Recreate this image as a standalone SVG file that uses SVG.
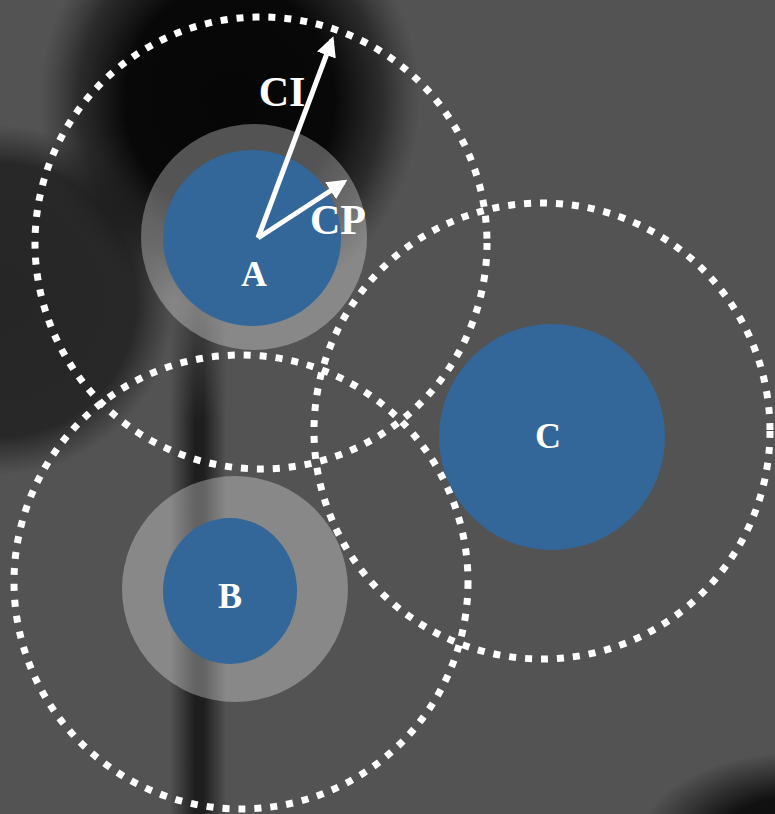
<svg xmlns="http://www.w3.org/2000/svg" width="775" height="814" viewBox="0 0 775 814">
<defs>
<radialGradient id="gBlob" cx="230" cy="100" r="200" gradientUnits="userSpaceOnUse" gradientTransform="translate(230 100) scale(0.95 1.05) translate(-230 -100)">
<stop offset="0" stop-color="#060606"/>
<stop offset="0.55" stop-color="#080808"/>
<stop offset="0.8" stop-color="#111" stop-opacity="0.6"/>
<stop offset="1" stop-color="#222" stop-opacity="0"/>
</radialGradient>
<radialGradient id="gLeft" cx="0" cy="300" r="175" gradientUnits="userSpaceOnUse">
<stop offset="0" stop-color="#262626"/>
<stop offset="0.78" stop-color="#282828"/>
<stop offset="1" stop-color="#2c2c2c" stop-opacity="0"/>
</radialGradient>
<radialGradient id="gBR" cx="800" cy="840" r="160" gradientUnits="userSpaceOnUse" gradientTransform="translate(800 840) scale(1 0.55) translate(-800 -840)">
<stop offset="0" stop-color="#0c0c0c"/>
<stop offset="0.5" stop-color="#111"/>
<stop offset="1" stop-color="#111" stop-opacity="0"/>
</radialGradient>
<linearGradient id="gStripe" x1="170" y1="0" x2="226" y2="0" gradientUnits="userSpaceOnUse">
<stop offset="0" stop-color="#1e1e1e" stop-opacity="0"/>
<stop offset="0.45" stop-color="#1e1e1e"/>
<stop offset="0.6" stop-color="#1e1e1e"/>
<stop offset="1" stop-color="#1e1e1e" stop-opacity="0"/>
</linearGradient>
<linearGradient id="gFade" x1="0" y1="260" x2="0" y2="420" gradientUnits="userSpaceOnUse">
<stop offset="0" stop-color="#fff" stop-opacity="0"/>
<stop offset="1" stop-color="#fff"/>
</linearGradient>
<mask id="mStripe"><rect x="160" y="250" width="80" height="570" fill="url(#gFade)"/></mask>
<marker id="ah" viewBox="0 0 10 10" refX="8" refY="5" markerWidth="4" markerHeight="4" orient="auto" markerUnits="strokeWidth">
<path d="M0,0 L10,5 L0,10 Z" fill="#fff"/>
</marker>
<style>
.zone{fill:none;stroke:#fff;stroke-width:7;stroke-dasharray:7 9}
.halo{fill:#fff;fill-opacity:0.31}
.core{fill:#336699}
.lbl{font-family:"Liberation Serif","Times New Roman",serif;font-weight:bold;fill:#fff;text-anchor:middle}
.arr{stroke:#fff;stroke-width:5;fill:none;marker-end:url(#ah)}
</style>
</defs>
<g id="background">
<rect width="775" height="814" fill="#535353"/>
<rect x="0" y="100" width="200" height="400" fill="url(#gLeft)"/>
<rect x="0" y="0" width="460" height="330" fill="url(#gBlob)"/>
<rect x="170" y="250" width="56" height="564" fill="url(#gStripe)" mask="url(#mStripe)"/>
<rect x="600" y="730" width="175" height="84" fill="url(#gBR)"/>
</g>
<g id="connectors">
<circle class="zone" cx="261" cy="243" r="226"/>
<circle class="zone" cx="241" cy="582" r="227"/>
<circle class="zone" cx="542" cy="431" r="228"/>
</g>
<g id="node-A">
<circle class="halo" cx="254" cy="237" r="113"/>
<ellipse class="core" cx="252" cy="238" rx="89" ry="88"/>
<text class="lbl" x="254" y="286" font-size="36">A</text>
</g>
<g id="node-B">
<circle class="halo" cx="235" cy="589" r="113"/>
<ellipse class="core" cx="230" cy="591" rx="67" ry="73"/>
<text class="lbl" x="230" y="608" font-size="36">B</text>
</g>
<g id="node-C">
<ellipse class="core" cx="552" cy="437" rx="113" ry="113"/>
<text class="lbl" x="548" y="448" font-size="36">C</text>
</g>
<g id="arrows">
<line class="arr" x1="258" y1="238" x2="332" y2="40"/>
<line class="arr" x1="258" y1="238" x2="344" y2="182"/>
<text class="lbl" x="282" y="106" font-size="42">CI</text>
<text class="lbl" x="338" y="234" font-size="42">CP</text>
</g>
</svg>
